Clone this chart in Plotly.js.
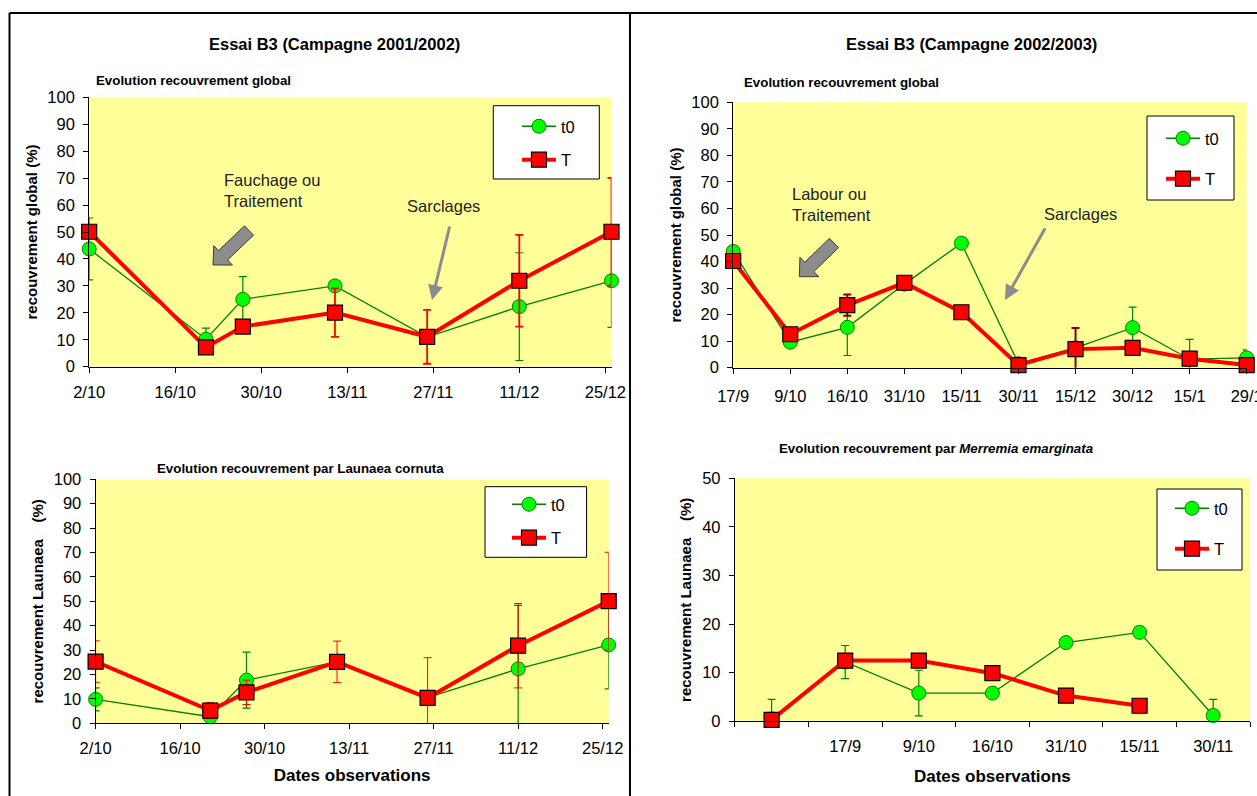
<!DOCTYPE html>
<html>
<head>
<meta charset="utf-8">
<script src="https://cdn.plot.ly/plotly-3.0.1.min.js"></script>
<style>html,body{margin:0;padding:0;background:#fff;}#chart{width:1257px;height:796px;}</style>
</head>
<body>
<div id="chart"></div>
<script>
// ---------- DATA ----------
// Panel 1 : Essai B3 2001/2002 - recouvrement global
const datesA = ['2001-10-02','2001-10-21','2001-10-27','2001-11-11','2001-11-26','2001-12-11','2001-12-26'];
const globalA_t0 = [43.7, 10.2, 25.0, 30.0, 11.0, 22.3, 31.9];
const globalA_t0_err = [11.5, 4.1, 8.4, null, null, 20, 17.3];
const globalA_T = [50.1, 7.2, 14.9, 20.1, 11.1, 31.9, 50.1];
const globalA_T_err = [null, null, null, 9, 10, 17, 20];

// Panel 2 : Essai B3 2002/2003 - recouvrement global
const catsB = ['17/9','9/10','16/10','31/10','15/11','30/11','15/12','30/12','15/1','29/1'];
const globalB_t0 = [43.8, 9.6, 15.2, 31.5, 46.9, 1.5, 7.5, 15.1, 3.2, 3.7];
const globalB_t0_err = [null, null, 10.6, null, null, null, null, 7.7, 7.5, 3];
const globalB_T = [40.2, 12.6, 23.6, 32.0, 20.9, 1.0, 7.0, 7.5, 3.4, 1.0];
const globalB_T_err = [null, null, 4, null, null, null, 8, null, null, null];

// Panel 3 : 2001/2002 - Launaea cornuta
const launaea_t0 = [9.8, 2.7, 17.7, 25.2, 10.5, 22.3, 32.1];
const launaea_t0_err = [4.7, 3.7, 11.5, null, null, 26, 18];
const launaea_T = [25.3, 5.2, 12.7, 25.2, 10.4, 31.8, 50.1];
const launaea_T_err = [8.5, 3.3, 5, 8.5, 16.5, 17.3, 20];

// Panel 4 : 2002/2003 - Merremia emarginata
const catsD = ['\u00A0','17/9','9/10','16/10','31/10','15/11','30/11'];
const merremia_t0 = [0.5, 12.2, 5.8, 5.8, 16.2, 18.3, 1.2];
const merremia_t0_err = [4, 3.4, 4.7, null, null, null, 3.3];
const merremia_T = [0.3, 12.5, 12.5, 9.9, 5.3, 3.2, null];

const seriesNames = ['t0', 'T'];

// ---------- STYLE ----------
const W = 1257, H = 796;
const FONT = 'Liberation Sans, Arial, sans-serif';
const px = x => x / W;
const py = y => 1 - y / H;

function t0Trace(x, y, err, xa, ya, leg) {
  return {
    x: x, y: y, name: seriesNames[0], xaxis: xa, yaxis: ya, legend: leg, legendgroup: leg + 'a',
    type: 'scatter', mode: 'lines+markers', cliponaxis: false,
    line: {color: '#008000', width: 1.3},
    marker: {symbol: 'circle', size: 14, color: '#00FF00', line: {color: '#008000', width: 1}},
    error_y: {type: 'data', array: err, visible: true, color: '#008000', thickness: 1.2, width: 4}
  };
}
function TTrace(x, y, err, xa, ya, leg, errColor, errThick) {
  const t = {
    x: x, y: y, name: seriesNames[1], xaxis: xa, yaxis: ya, legend: leg, legendgroup: leg + 'b',
    type: 'scatter', mode: 'lines+markers', cliponaxis: false,
    line: {color: '#FF0000', width: 4},
    marker: {symbol: 'square', size: 15, color: '#FF0000', line: {color: '#000000', width: 1.2}}
  };
  if (err) t.error_y = {type: 'data', array: err, visible: true, color: errColor, thickness: errThick, width: 4};
  return t;
}

const data = [
  t0Trace(datesA, globalA_t0, globalA_t0_err, 'x', 'y', 'legend'),
  TTrace(datesA, globalA_T, globalA_T_err, 'x', 'y', 'legend', '#FF0000', 1.8),
  t0Trace(catsB, globalB_t0, globalB_t0_err, 'x2', 'y2', 'legend2'),
  TTrace(catsB, globalB_T, globalB_T_err, 'x2', 'y2', 'legend2', '#800000', 2),
  t0Trace(datesA, launaea_t0, launaea_t0_err, 'x3', 'y3', 'legend3'),
  TTrace(datesA, launaea_T, launaea_T_err, 'x3', 'y3', 'legend3', '#FF0000', 1),
  t0Trace(catsD, merremia_t0, merremia_t0_err, 'x4', 'y4', 'legend4'),
  TTrace(catsD, merremia_T, null, 'x4', 'y4', 'legend4')
];

function baseAxis(extra) {
  return Object.assign({
    showline: true, linecolor: '#000', linewidth: 1, mirror: false,
    ticks: 'outside', ticklen: 5, tickwidth: 1, tickcolor: '#000',
    showgrid: false, zeroline: false, fixedrange: true,
    tickfont: {family: FONT, size: 16.5, color: '#000'}
  }, extra);
}
const dateAxis = (dom, anchor, titleText) => baseAxis({
  domain: dom, anchor: anchor, type: 'date',
  range: ['2001-10-02', '2001-12-26'], tick0: '2001-10-02', dtick: 14 * 86400000,
  tickformat: '%-d/%-m', ticklabelstandoff: 5,
  title: titleText ? {text: titleText, font: {family: FONT, size: 17, color: '#000'}, standoff: 13} : undefined
});
const yAx = (dom, anchor, max, titleText) => baseAxis({
  domain: dom, anchor: anchor, range: [0, max], dtick: 10, tick0: 0, ticklabelstandoff: 5,
  title: {text: titleText, font: {family: FONT, size: 15, color: '#000'}, standoff: 6}
});

// gray block arrow as a path (decoration)
function blockArrow(tail, tip, sw, hw, hl) {
  const dx = tip[0] - tail[0], dy = tip[1] - tail[1];
  const len = Math.hypot(dx, dy), ux = dx / len, uy = dy / len, nx = -uy, ny = ux;
  const bx = tip[0] - ux * hl, by = tip[1] - uy * hl;
  const pts = [
    [tail[0] + nx * sw, tail[1] + ny * sw], [bx + nx * sw, by + ny * sw], [bx + nx * hw, by + ny * hw],
    tip, [bx - nx * hw, by - ny * hw], [bx - nx * sw, by - ny * sw], [tail[0] - nx * sw, tail[1] - ny * sw]
  ];
  return {
    type: 'path', xref: 'paper', yref: 'paper', layer: 'above',
    path: 'M' + pts.map(p => px(p[0]).toFixed(5) + ',' + py(p[1]).toFixed(5)).join('L') + 'Z',
    fillcolor: '#8c8c8c', line: {color: '#3c3c3c', width: 1}
  };
}
const frameLine = (x0, y0, x1, y1) => ({type: 'line', xref: 'paper', yref: 'paper',
  x0: px(x0), y0: py(y0), x1: px(x1), y1: py(y1), line: {color: '#000', width: 2}});
const legendBox = (x0, y0, x1, y1) => ({type: 'rect', xref: 'paper', yref: 'paper', layer: 'above',
  x0: px(x0), y0: py(y0), x1: px(x1), y1: py(y1), fillcolor: '#fff', line: {color: '#000', width: 1}});

const txt = (text, x, y, size, xanchor, extra) => Object.assign({
  text: text, x: px(x), y: py(y), xref: 'paper', yref: 'paper', showarrow: false,
  xanchor: xanchor || 'center', yanchor: 'middle', align: 'left',
  font: {family: FONT, size: size, color: '#000'}
}, extra || {});
const thinArrow = (tip, tail) => ({
  text: '', x: px(tip[0]), y: py(tip[1]), xref: 'paper', yref: 'paper',
  showarrow: true, ax: tail[0] - tip[0], ay: tail[1] - tip[1],
  arrowhead: 2, arrowsize: 1, arrowwidth: 3, arrowcolor: '#8c8c8c'
});
const leg = (x, y, gap) => ({
  x: px(x), y: py(y), xanchor: 'left', yanchor: 'top', bgcolor: 'rgba(0,0,0,0)', borderwidth: 0,
  font: {family: FONT, size: 16.5, color: '#000'}, tracegroupgap: gap, traceorder: 'grouped',
  itemwidth: 34
});

const layout = {
  width: W, height: H, margin: {l: 0, r: 0, t: 0, b: 0},
  paper_bgcolor: '#fff', plot_bgcolor: '#FFFF99', showlegend: true,
  font: {family: FONT, color: '#000'},
  xaxis: dateAxis([px(89.2), px(611.5)], 'y'),
  yaxis: yAx([py(366.7), py(97.3)], 'x', 100, '<b>recouvrement global (%)</b>'),
  xaxis2: baseAxis({domain: [px(733.2), px(1246.7)], anchor: 'y2', type: 'category',
    categoryorder: 'array', categoryarray: catsB, range: [0, catsB.length - 1], ticklabelstandoff: 8}),
  yaxis2: yAx([py(367.7), py(102.3)], 'x2', 100, '<b>recouvrement global (%)</b>'),
  xaxis3: dateAxis([px(95.6), px(608.7)], 'y3', '<b>Dates observations</b>'),
  yaxis3: yAx([py(723.3), py(479.3)], 'x3', 100, '<b>recouvrement Launaea\u00A0\u00A0\u00A0\u00A0(%)</b>'),
  xaxis4: baseAxis({domain: [px(734.8), px(1250)], anchor: 'y4', type: 'category',
    categoryorder: 'array', categoryarray: catsD, range: [-0.5, catsD.length - 0.5],
    tickson: 'boundaries', ticklabelstandoff: 10,
    title: {text: '<b>Dates observations</b>', font: {family: FONT, size: 17, color: '#000'}, standoff: 16}}),
  yaxis4: yAx([py(721.3), py(478.3)], 'x4', 50, '<b>recouvrement Launaea\u00A0\u00A0\u00A0\u00A0(%)</b>'),
  legend: leg(517, 109, 9),
  legend2: leg(1161, 121, 16),
  legend3: leg(507, 487, 9),
  legend4: leg(1170, 491, 16),
  shapes: [
    frameLine(9.5, 13, 1257, 13), frameLine(9.5, 13, 9.5, 796), frameLine(630, 13, 630, 796),
    legendBox(493.3, 105.7, 599.3, 179), legendBox(1147, 116, 1234, 200),
    legendBox(485, 486.7, 586.6, 557.3), legendBox(1157, 489, 1242, 570),
    blockArrow([249, 230.5], [213, 265], 6.5, 13.5, 14),
    blockArrow([834, 243], [799.3, 276.7], 6.5, 13.5, 14)
  ],
  annotations: [
    txt('<b>Essai B3 (Campagne 2001/2002)</b>', 334, 44, 16.5),
    txt('<b>Essai B3 (Campagne 2002/2003)</b>', 971, 44, 16.5),
    txt('<b>Evolution recouvrement global</b>', 94, 80, 13.3, 'left'),
    txt('<b>Evolution recouvrement global</b>', 742.4, 82.7, 13.3, 'left'),
    txt('<b>Evolution recouvrement par Launaea cornuta</b>', 300, 468, 13.3),
    txt('<b>Evolution recouvrement par <i>Merremia emarginata</i></b>', 936, 448.3, 13.3),
    txt('Fauchage ou<br>Traitement', 221.8, 191, 16.5, 'left', {font: {family: FONT, size: 16.5, color: '#222'}}),
    txt('Sarclages', 404.6, 205.7, 16.5, 'left', {font: {family: FONT, size: 16.5, color: '#222'}}),
    txt('Labour ou<br>Traitement', 790, 204, 16.5, 'left', {font: {family: FONT, size: 16.5, color: '#222'}}),
    txt('Sarclages', 1042, 214.3, 16.5, 'left', {font: {family: FONT, size: 16.5, color: '#222'}}),
    thinArrow([432, 300], [450, 225]),
    thinArrow([1005, 300], [1046, 226.7])
  ]
};

Plotly.newPlot('chart', data, layout, {displayModeBar: false, staticPlot: true});
</script>
</body>
</html>
